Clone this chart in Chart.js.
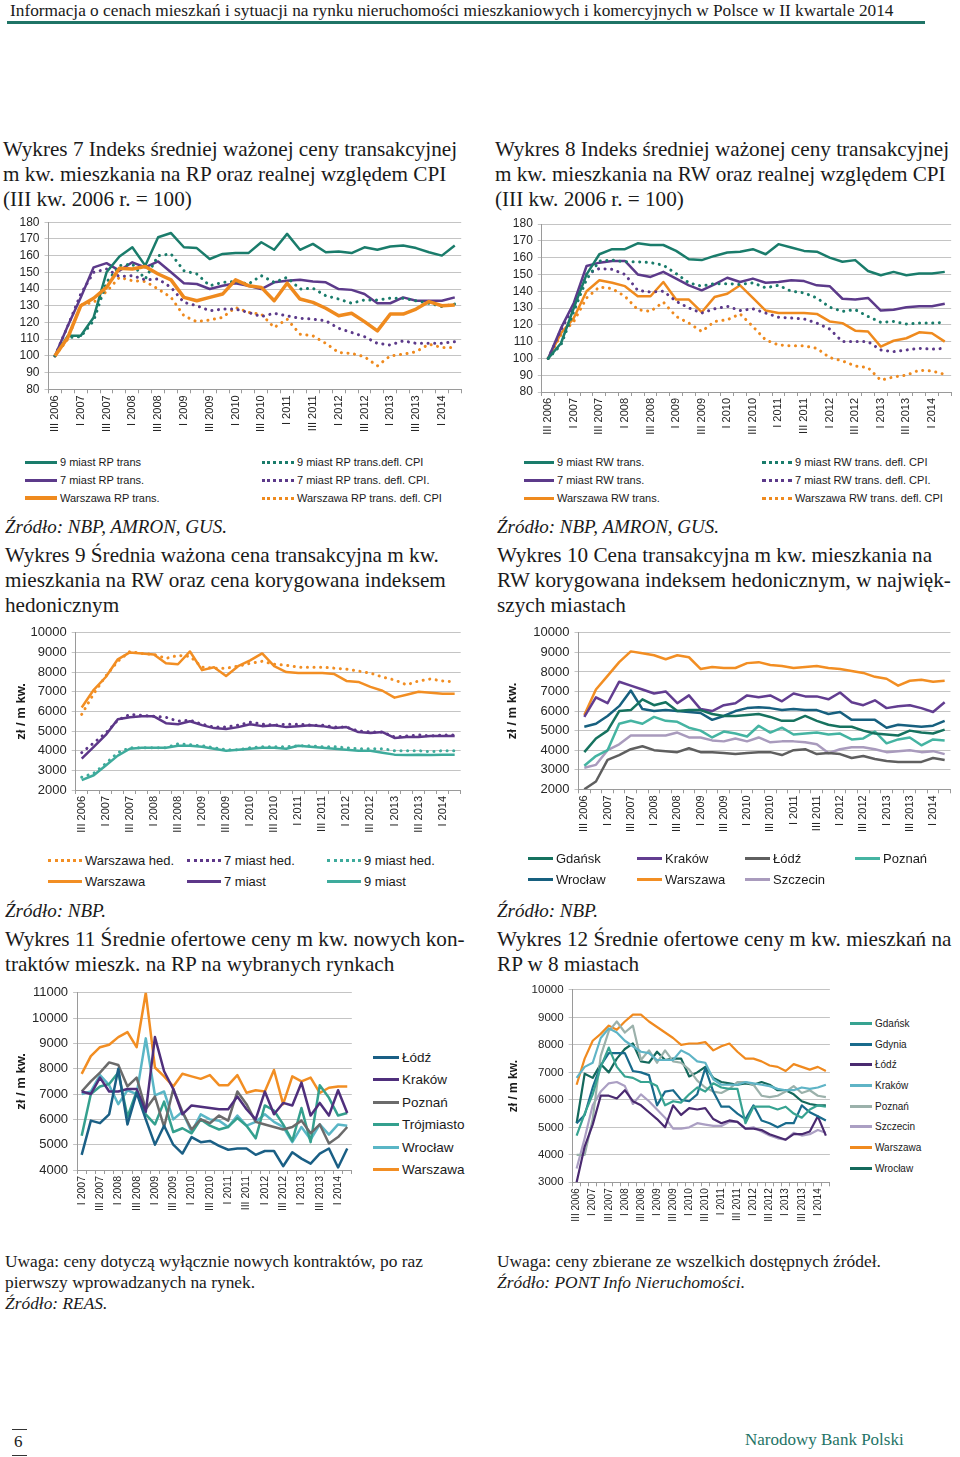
<!DOCTYPE html>
<html lang="pl">
<head>
<meta charset="utf-8">
<title>Wykresy 7-12</title>
<script src="https://cdn.jsdelivr.net/npm/chart.js@4.4.1/dist/chart.umd.min.js"></script>
<style>
body { margin:0; background:#fff; }
#page { position:relative; width:960px; height:1457px; overflow:hidden; font-family:"Liberation Serif", serif; color:#1a1a1a; }
.t { position:absolute; white-space:nowrap; }
.hdr { left:10px; top:1px; font-size:17.3px; line-height:20px; }
.rule { position:absolute; left:7px; top:21px; width:918px; height:3px; background:#1f7466; }
.title { font-size:21.2px; line-height:25px; }
.src { font-size:19px; line-height:24px; font-style:italic; }
.note { font-size:17.4px; line-height:21px; }
.box { position:absolute; }
.legend { position:absolute; font-family:"Liberation Sans", Arial, sans-serif; color:#1a1a1a; display:grid; }
.legend .item { display:flex; align-items:center; white-space:nowrap; }
.legend .sw { flex:none; margin-right:3px; display:inline-block; }
</style>
</head>
<body>
<div id="page">
  <div class="t hdr">Informacja o cenach mieszkań i sytuacji na rynku nieruchomości mieszkaniowych i komercyjnych w Polsce w II kwartale 2014</div>
  <div class="rule"></div>

  <div class="t title" style="left:3px;top:137px">Wykres 7 Indeks średniej ważonej ceny transakcyjnej<br>m kw. mieszkania na RP oraz realnej względem CPI<br>(III kw. 2006 r. = 100)</div>
  <div class="t title" style="left:495px;top:137px">Wykres 8 Indeks średniej ważonej ceny transakcyjnej<br>m kw. mieszkania na RW oraz realnej względem CPI<br>(III kw. 2006 r. = 100)</div>

  <div class="box" id="c7"><canvas></canvas></div>
  <div class="box" id="c8"><canvas></canvas></div>
  <div class="legend" id="l7" style="left:25px;top:453px"></div>
  <div class="legend" id="l8" style="left:524px;top:453px"></div>

  <div class="t src" style="left:5px;top:515px">Źródło: NBP, AMRON, GUS.</div>
  <div class="t src" style="left:497px;top:515px">Źródło: NBP, AMRON, GUS.</div>
  <div class="t title" style="left:5px;top:543px">Wykres 9 Średnia ważona cena transakcyjna m kw.<br>mieszkania na RW oraz cena korygowana indeksem<br>hedonicznym</div>
  <div class="t title" style="left:497px;top:543px">Wykres 10 Cena transakcyjna m kw. mieszkania na<br>RW korygowana indeksem hedonicznym, w najwięk-<br>szych miastach</div>

  <div class="box" id="c9"><canvas></canvas></div>
  <div class="box" id="c10"><canvas></canvas></div>
  <div class="legend" id="l9" style="left:48px;top:850px"></div>
  <div class="legend" id="l10" style="left:528px;top:848px"></div>

  <div class="t src" style="left:5px;top:899px">Źródło: NBP.</div>
  <div class="t src" style="left:497px;top:899px">Źródło: NBP.</div>
  <div class="t title" style="left:5px;top:927px">Wykres 11 Średnie ofertowe ceny m kw. nowych kon-<br>traktów mieszk. na RP na wybranych rynkach</div>
  <div class="t title" style="left:497px;top:927px">Wykres 12 Średnie ofertowe ceny m kw. mieszkań na<br>RP w 8 miastach</div>

  <div class="box" id="c11"><canvas></canvas></div>
  <div class="box" id="c12"><canvas></canvas></div>
  <div class="legend" id="l11" style="left:373px;top:1046px"></div>
  <div class="legend" id="l12" style="left:850px;top:1013px"></div>

  <div class="t note" style="left:5px;top:1251px">Uwaga: ceny dotyczą wyłącznie nowych kontraktów, po raz<br>pierwszy wprowadzanych na rynek.<br><i>Źródło: REAS.</i></div>
  <div class="t note" style="left:497px;top:1251px">Uwaga: ceny zbierane ze wszelkich dostępnych źródeł.<br><i>Źródło: PONT Info Nieruchomości.</i></div>

  <div style="position:absolute;left:12px;top:1429px;width:15px;height:1px;background:#333"></div>
  <div class="t" style="left:14px;top:1432px;font-size:17px;line-height:20px">6</div>
  <div style="position:absolute;left:12px;top:1455px;width:15px;height:1px;background:#333"></div>
  <div class="t" style="left:745px;top:1430px;font-size:17px;line-height:20px;color:#1f7466">Narodowy Bank Polski</div>
</div>

<script>
// kwartały III 2006 - II 2014
const quarters = ['III 2006','IV 2006','I 2007','II 2007','III 2007','IV 2007','I 2008','II 2008',
  'III 2008','IV 2008','I 2009','II 2009','III 2009','IV 2009','I 2010','II 2010',
  'III 2010','IV 2010','I 2011','II 2011','III 2011','IV 2011','I 2012','II 2012',
  'III 2012','IV 2012','I 2013','II 2013','III 2013','IV 2013','I 2014','II 2014'];
// wykres 11 zaczyna się od I 2007
const quarters07 = ['I 2007','II 2007','III 2007','IV 2007','I 2008','II 2008',
  'III 2008','IV 2008','I 2009','II 2009','III 2009','IV 2009','I 2010','II 2010',
  'III 2010','IV 2010','I 2011','II 2011','III 2011','IV 2011','I 2012','II 2012',
  'III 2012','IV 2012','I 2013','II 2013','III 2013','IV 2013','I 2014','II 2014'];

// Wykres 7 - RP
const rp9  = [100,112,112,123,150,159.5,165,154,171,173.5,165,164.5,158,161,161.5,161.5,168,163.5,173,163.5,167,162,162.5,161.5,165,163.5,165.5,166,164.5,162,160,166];
const rp9d = [100,111,111.5,121,144,154,155,146,160,161,151,149,142,144,144.5,143,148,144,147,140,140.5,136,134,131.5,133.5,133.5,134.5,134.5,133,131.5,129.5,131];
const rp7  = [100,118,135,153,155.5,151,156,153,156.5,150,143.5,143,140,142,143.5,142,140,144,145,145.5,144.5,144,140,139.5,137,131.5,131.5,135,133,133,133,135];
const rp7d = [100,118,137,150,152,147.5,148,145.5,146,141,132,130,127,128,128,126,123.5,125.5,124,122.5,122,121,116.5,114,111.5,107.5,106.5,109,107.5,107.5,107.5,108.5];
const rpW  = [100,111,130,134.5,141,152.5,152,153.5,149,145.5,135,133,135,137,145.5,142,141,133,143.5,134,132,128.5,124,125.5,120.5,115,125,125,128,132.5,130,130.5];
const rpWd = [100,110,130.5,132,138.5,147,145,144.5,140,135,124,120.5,121.5,123,129,126,125,117,122,113,112,107.5,102,101.5,99.5,94,100,101,102.5,107,105,105];

// Wykres 8 - RW
const rw9  = [100,109,130,150,162,165,165,168.5,167.5,167.5,164,159,158.5,161,163,163.5,165,162,168,166,164,163.5,160,157.5,158.5,152,149.5,151.5,149.5,150.5,150.5,151.5];
const rw9d = [100,108,128,147,158,158.5,157.5,157.5,157,155.5,150.5,145,143,144.5,144.5,144,145,142,143.5,140,139,136,130.5,128,129,125,121.5,122,120.5,121,121,121.5];
const rw7  = [100,118,133,155,157,158,158,150,148.5,151.5,147.5,143.5,140.5,144,148,145.5,147.5,145,145.5,146.5,146,143.5,143,135.5,135,136,128.5,129,130.5,131,131,132.5];
const rw7d = [100,117,131,150,153.5,153,150,140.5,139.5,140,134,130,127,129.5,131,128.5,129.5,127,124.5,124,123.5,121,117.5,110,110,110,105,104,105,106,105.5,106];
const rwW  = [100,115,124,140,146.5,145,143,137,137,145.5,135,135,127.5,136.5,138.5,143.5,136,128.5,127,127,127,126.5,122,121,116.5,116,107,110.5,112,115.5,115,110];
const rwWd = [100,114,122,136,142.5,141.5,137,129,128,133.5,125,121,116,122,123,126.5,119,111,108,107.5,107.5,106,100.5,98.5,95.5,94.5,87,89,90,93,92.5,90.5];

// Wykres 9 - zł / m kw.
const w9W   = [6200,7100,7750,8650,9000,8950,8900,8450,8400,9050,8100,8250,7800,8300,8600,8950,8300,8000,7950,7950,7950,7900,7550,7500,7250,7050,6700,6850,7000,6950,6900,6900];
const w9Wh  = [5850,6900,7800,8550,9050,8950,8900,8700,8850,8800,8250,8200,8200,8300,8450,8550,8400,8350,8250,8250,8250,8200,8150,8050,7950,7750,7600,7350,7550,7650,7550,7500];
const w9m7  = [3600,4200,4800,5600,5700,5750,5750,5400,5350,5500,5300,5150,5100,5200,5350,5250,5300,5200,5250,5300,5250,5150,5200,4950,4900,4950,4650,4700,4700,4750,4750,4750];
const w9m7h = [3900,4400,4900,5550,5850,5800,5750,5700,5500,5550,5350,5200,5200,5300,5450,5350,5300,5350,5350,5300,5300,5200,5200,5000,4950,4950,4700,4750,4800,4750,4800,4800];
const w9m9  = [2500,2750,3250,3750,4100,4150,4150,4150,4250,4250,4200,4100,4000,4050,4100,4150,4150,4100,4250,4200,4150,4100,4050,4000,4000,3900,3800,3780,3800,3780,3800,3800];
const w9m9h = [2650,2850,3350,3900,4150,4150,4150,4150,4350,4300,4250,4150,4050,4050,4150,4200,4200,4200,4250,4250,4200,4200,4150,4100,4100,4100,4000,4000,4000,3950,4000,4000];

// Wykres 10 - miasta RW
const w10Gdansk   = [3900,4600,5000,6000,6050,6600,6300,6450,6000,6050,6050,5850,5750,5750,5800,5850,5700,5500,5500,5750,5500,5300,5200,5200,5000,4850,4800,4750,5000,4900,4850,5050];
const w10Krakow   = [5700,6700,6400,7500,7300,7100,6900,7000,6400,6800,6100,6000,6300,6400,6800,6700,6800,6500,6900,6750,6750,6600,6950,6450,6300,6550,6150,6250,6300,6150,5950,6450];
const w10Lodz     = [2000,2400,3500,3750,4050,4200,4000,3950,3900,4100,3900,3900,3850,3800,3850,3900,3900,3750,4000,4050,3800,3850,3800,3600,3700,3550,3450,3400,3400,3400,3600,3500];
const w10Poznan   = [3200,3700,4000,5350,5500,5350,5700,5500,5450,5150,5000,4650,4950,4850,4700,5250,4900,5150,4800,4850,4900,4800,4850,4550,4600,4950,4350,4550,4650,4250,4550,4500];
const w10Wroclaw  = [5200,5350,5750,6250,7050,6100,6000,6050,6000,5950,5900,5550,5750,6000,6150,6200,6150,6050,6100,6050,6050,5850,5950,5550,5550,5550,5150,5300,5250,5200,5250,5500];
const w10Warszawa = [5800,7100,7800,8500,9050,8950,8850,8650,8850,8750,8150,8250,8200,8200,8450,8500,8350,8300,8200,8250,8300,8200,8150,8050,7950,7750,7650,7300,7550,7600,7500,7550];
const w10Szczecin = [3100,3250,4000,4300,4750,4750,4750,4750,4900,4650,4650,4500,4450,4600,4450,4650,4400,4450,4450,4400,4300,3850,4050,4150,4150,4050,3900,3950,4000,3900,3950,3800];

// Wykres 11 - ceny ofertowe nowych kontraktów (I 2007 - II 2014)
const w11Lodz     = [4600,5950,5850,6200,8000,5800,7050,6000,5000,5750,5000,4650,5300,5100,5150,4950,4800,4850,4850,4600,4750,4750,4150,4700,4450,4250,4650,4850,4100,4850];
const w11Krakow   = [7100,7000,7650,7100,7100,7200,7200,6300,9250,7900,7200,6200,6550,6500,6450,6400,6400,6900,6400,6000,7100,6200,6650,6550,7450,6150,6650,6150,7150,6250];
const w11Poznan   = [7100,7500,7850,8250,8150,7300,7650,6400,6900,5700,7200,6300,5600,6000,5850,6150,5950,7100,6600,5900,5800,5700,5600,5700,5950,5450,5800,5050,5300,5700];
const w11Trojm    = [5350,7000,7300,7400,7850,6100,7100,6200,5800,6700,5500,5650,5450,6000,5750,5600,5700,6050,5750,5250,6550,6350,5800,5150,6450,5100,7350,6850,6150,6250];
const w11Wroclaw  = [7000,7100,7750,7350,6600,7150,7000,9200,6950,7100,6000,6300,5500,6200,6000,5950,5700,6150,5750,5900,6200,5900,5700,5100,5700,5200,5800,5400,5800,5750];
const w11Warszawa = [7800,8500,8850,8950,9250,9450,8850,11000,8050,7700,7300,7800,7700,7600,7750,7350,7350,7750,7050,7150,7100,7950,6600,7700,7500,7650,7050,7250,7300,7300];

// Wykres 12 - ceny ofertowe w 8 miastach
const w12Gdansk   = [4700,5500,6200,7200,7900,7200,6850,6800,6650,6650,6500,5800,5950,5900,6200,6450,6300,6600,6450,6400,6400,5150,5750,5750,5750,5650,5750,5500,5350,5650,5800,5750];
const w12Gdynia   = [5150,5450,6450,7250,7700,7700,7700,7050,7000,6900,5800,6300,6350,6000,5950,6200,7150,6300,5750,5750,5500,5300,5800,5250,5150,5000,5150,5150,5800,5550,5400,5250];
const w12Lodz     = [3000,4300,5100,6150,6150,6050,6350,5950,5800,5550,5300,5000,5800,5450,5700,5650,5700,5300,5150,5250,5200,4950,4950,4900,4750,4650,4550,4750,4750,4850,5400,4700];
const w12Krakow   = [6800,7200,7350,8250,8600,8450,8150,7950,7750,7700,7450,7450,7450,7800,7650,7400,7350,6750,6550,6550,6550,6650,6600,6550,6500,6400,6350,6350,6450,6400,6450,6550];
const w12Poznan   = [4000,4000,5300,7600,8500,8850,8450,8700,7450,7800,7350,7800,7400,7350,7100,6700,6450,6300,6250,6400,6650,6650,6550,6150,6100,6150,6300,6500,6250,6350,6150,6100];
const w12Szczecin = [3500,4600,5800,6300,6600,6650,6500,5850,6200,5950,5650,5350,4950,4950,5000,5150,5100,5050,5050,5200,5200,4950,5000,4850,4700,4600,4550,4800,4700,4750,4900,4800];
const w12Warszawa = [6550,7500,8150,8400,8700,8550,8850,9100,9100,8850,8650,8450,8250,8000,8050,8050,8100,7800,7950,8050,7750,7500,7500,7400,7250,7200,7050,7300,7200,7100,7200,7050];
const w12Wroclaw  = [5150,6950,6800,7300,7000,7500,7850,8050,7400,7350,7750,7450,7500,7500,6850,7000,7200,6800,6650,6600,6550,6600,6550,6650,6550,6350,6350,6200,5950,5850,5800,5800];

const SANS = '"Liberation Sans", Arial, sans-serif';

function line(label, data, color, width, dotted) {
  return {
    label: label, data: data, borderColor: color, backgroundColor: color,
    borderWidth: width, dotted: !!dotted,
    borderDash: dotted ? [0.1, 6.5] : [],
    borderCapStyle: dotted ? 'round' : 'butt',
    borderJoinStyle: 'round',
    pointRadius: 0, tension: 0, fill: false
  };
}

function makeChart(id, box, labels, datasets, yopt) {
  const wrap = document.getElementById(id);
  wrap.style.left = box.left + 'px';
  wrap.style.top = box.top + 'px';
  wrap.style.width = box.width + 'px';
  wrap.style.height = box.height + 'px';
  const yTitle = yopt.title ? {
    display: true, text: yopt.title, color: '#1a1a1a',
    font: {family: SANS, size: yopt.titleSize, weight: 'bold'},
    padding: {top: yopt.titlePad, bottom: 0}
  } : {display: false};
  return new Chart(wrap.querySelector('canvas'), {
    type: 'line',
    data: {labels: labels, datasets: datasets},
    options: {
      responsive: true,
      maintainAspectRatio: false,
      animation: false,
      layout: {padding: {top: box.plotTop - box.top, right: box.left + box.width - box.plotRight, left: 0, bottom: 0}},
      plugins: {legend: {display: false}, tooltip: {enabled: false}},
      scales: {
        x: {
          offset: true,
          grid: {offset: true, drawOnChartArea: false, drawTicks: true, tickLength: 4, color: '#9a9a9a'},
          border: {color: '#9a9a9a'},
          ticks: {
            autoSkip: false, maxRotation: 90, minRotation: 90, padding: 2,
            color: '#262626', font: {family: SANS, size: yopt.xFont},
            callback: function (v, i) { return i % 2 === 0 ? this.getLabelForValue(v) : ''; }
          },
          afterFit: function (s) { s.height = box.top + box.height - box.plotBottom; }
        },
        y: {
          min: yopt.min, max: yopt.max,
          ticks: {
            stepSize: yopt.step, autoSkip: false, padding: 5, color: '#262626',
            font: {family: SANS, size: yopt.yFont},
            callback: function (v) { return String(v); }
          },
          grid: {color: '#c4c4c4', tickLength: 4},
          border: {color: '#9a9a9a'},
          title: yTitle,
          afterFit: function (s) { s.width = box.plotLeft - box.left; }
        }
      }
    }
  });
}

function legend(id, datasets, o) {
  const el = document.getElementById(id);
  el.style.gridTemplateColumns = o.cols;
  el.style.gridAutoRows = o.row + 'px';
  el.style.fontSize = o.font + 'px';
  datasets.forEach(function (ds) {
    const it = document.createElement('div');
    it.className = 'item';
    const sw = document.createElement('span');
    sw.className = 'sw';
    sw.style.width = o.sw + 'px';
    if (ds.dotted) {
      sw.style.borderTop = '3px dotted ' + ds.borderColor;
      sw.style.height = '0';
    } else {
      sw.style.height = Math.round(ds.borderWidth + 0.5) + 'px';
      sw.style.background = ds.borderColor;
    }
    const tx = document.createElement('span');
    tx.textContent = ds.label;
    it.appendChild(sw);
    it.appendChild(tx);
    el.appendChild(it);
  });
}

const TEAL = '#1a7c6b', PURP = '#5c3a8a', ORNG = '#ef8a1e';

// Wykres 7
const ds7 = [
  line('9 miast RP trans', rp9, TEAL, 2.5),
  line('9 miast RP trans.defl. CPI', rp9d, TEAL, 3, true),
  line('7 miast RP trans.', rp7, PURP, 2.5),
  line('7 miast RP trans. defl. CPI.', rp7d, PURP, 3, true),
  line('Warszawa RP trans.', rpW, ORNG, 3.5),
  line('Warszawa RP trans. defl. CPI', rpWd, ORNG, 3, true)
];
ds7[4].order = -1;
makeChart('c7', {left: 0, top: 210, width: 470, height: 240, plotLeft: 48.5, plotRight: 467.5, plotTop: 221.7, plotBottom: 389.3},
  quarters, ds7, {min: 80, max: 180, step: 10, yFont: 12, xFont: 11});
legend('l7', ds7, {cols: '237px auto', row: 18, font: 11, sw: 32});

// Wykres 8
const ds8 = [
  line('9 miast RW trans.', rw9, TEAL, 2.5),
  line('9 miast RW trans. defl. CPI', rw9d, TEAL, 3, true),
  line('7 miast RW trans.', rw7, PURP, 2.5),
  line('7 miast RW trans. defl. CPI.', rw7d, PURP, 3, true),
  line('Warszawa RW trans.', rwW, ORNG, 2.5),
  line('Warszawa RW trans. defl. CPI', rwWd, ORNG, 3, true)
];
makeChart('c8', {left: 490, top: 210, width: 470, height: 240, plotLeft: 541.8, plotRight: 957.5, plotTop: 224, plotBottom: 392},
  quarters, ds8, {min: 80, max: 180, step: 10, yFont: 12, xFont: 11});
legend('l8', ds8, {cols: '238px auto', row: 18, font: 11, sw: 30});

// Wykres 9
const O9 = '#f28e23', P9 = '#5d3789', T9 = '#3eab9c';
const ds9 = [
  line('Warszawa hed.', w9Wh, O9, 3, true),
  line('7 miast hed.', w9m7h, P9, 3, true),
  line('9 miast hed.', w9m9h, T9, 3, true),
  line('Warszawa', w9W, O9, 2.5),
  line('7 miast', w9m7, P9, 2.5),
  line('9 miast', w9m9, T9, 2.5)
];
makeChart('c9', {left: 0, top: 620, width: 470, height: 230, plotLeft: 75.7, plotRight: 461, plotTop: 630, plotBottom: 790},
  quarters, ds9, {min: 2000, max: 10000, step: 1000, yFont: 13, xFont: 11, title: 'zł / m kw.', titleSize: 13, titlePad: 14});
legend('l9', ds9, {cols: '139px 140px auto', row: 21, font: 13, sw: 34});

// Wykres 10
const ds10 = [
  line('Gdańsk', w10Gdansk, '#16725f', 2.5),
  line('Kraków', w10Krakow, '#623d90', 2.5),
  line('Łódź', w10Lodz, '#5f5f5f', 2.5),
  line('Poznań', w10Poznan, '#45b4a2', 2.5),
  line('Wrocław', w10Wroclaw, '#17607f', 2.5),
  line('Warszawa', w10Warszawa, '#f28e23', 2.5),
  line('Szczecin', w10Szczecin, '#a99bbd', 2.5)
];
makeChart('c10', {left: 490, top: 620, width: 470, height: 230, plotLeft: 578.5, plotRight: 950.8, plotTop: 632.3, plotBottom: 789.3},
  quarters, ds10, {min: 2000, max: 10000, step: 1000, yFont: 13, xFont: 11, title: 'zł / m kw.', titleSize: 13, titlePad: 15});
legend('l10', ds10, {cols: '109px 108px 110px auto', row: 21, font: 13, sw: 25});

// Wykres 11
const ds11 = [
  line('Łódź', w11Lodz, '#1a5f85', 2.5),
  line('Kraków', w11Krakow, '#4f2f7c', 2.5),
  line('Poznań', w11Poznan, '#6b6b6b', 2.5),
  line('Trójmiasto', w11Trojm, '#34a08e', 2.5),
  line('Wrocław', w11Wroclaw, '#5ab6c6', 2.5),
  line('Warszawa', w11Warszawa, '#f28e23', 2.5)
];
makeChart('c11', {left: 0, top: 980, width: 362, height: 245, plotLeft: 77.1, plotRight: 352.9, plotTop: 991, plotBottom: 1170},
  quarters07, ds11, {min: 4000, max: 11000, step: 1000, yFont: 13, xFont: 10.5, title: 'zł / m kw.', titleSize: 13, titlePad: 14});
legend('l11', ds11, {cols: 'auto', row: 22.5, font: 13.5, sw: 26});

// Wykres 12
const ds12 = [
  line('Gdańsk', w12Gdansk, '#37a391', 2.2),
  line('Gdynia', w12Gdynia, '#196b8c', 2.2),
  line('Łódź', w12Lodz, '#4a2a70', 2.2),
  line('Kraków', w12Krakow, '#5fb4c6', 2.2),
  line('Poznań', w12Poznan, '#9bb1ab', 2.2),
  line('Szczecin', w12Szczecin, '#ab9fc3', 2.2),
  line('Warszawa', w12Warszawa, '#f08a1f', 2.2),
  line('Wrocław', w12Wroclaw, '#14695c', 2.2)
];
makeChart('c12', {left: 490, top: 978, width: 350, height: 257, plotLeft: 572.6, plotRight: 831.9, plotTop: 989.3, plotBottom: 1182.3},
  quarters, ds12, {min: 3000, max: 10000, step: 1000, yFont: 11.5, xFont: 10, title: 'zł / m kw.', titleSize: 12, titlePad: 16});
legend('l12', ds12, {cols: 'auto', row: 20.7, font: 10, sw: 22});
</script>
</body>
</html>
